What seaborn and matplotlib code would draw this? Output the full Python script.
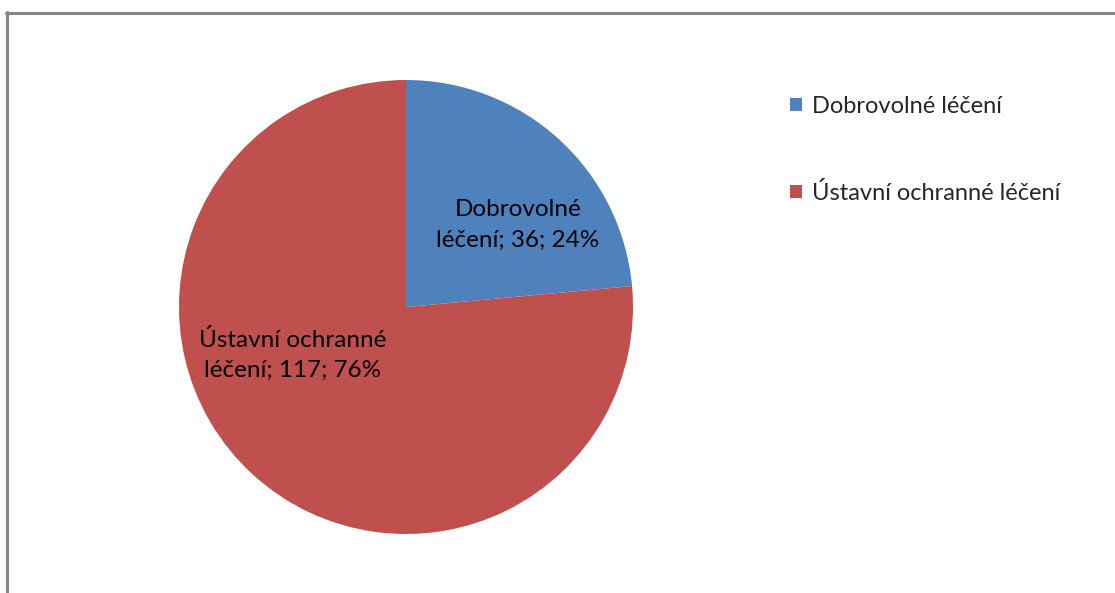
import matplotlib
matplotlib.use("Agg")
import matplotlib.pyplot as plt
from matplotlib.lines import Line2D
from matplotlib.patches import Patch
import seaborn as sns

categories = ["Dobrovolné léčení", "Ústavní ochranné léčení"]
values = [36, 117]
percent_labels = ["24%", "76%"]
slice_labels = ["Dobrovolné\nléčení; 36; 24%", "Ústavní ochranné\nléčení; 117; 76%"]

sns.set_theme(style="white")
plt.rcParams['font.family'] = ['Lato', 'DejaVu Sans']
colors = sns.color_palette(["#4F81BD", "#C0504D"])

W, H = 1115, 593
fig = plt.figure(figsize=(W / 100, H / 100), dpi=100)
fig.patch.set_facecolor("white")

cx, cy, r = 406, 307, 227
ax = fig.add_axes([(cx - r) / W, (H - cy - r) / H, 2 * r / W, 2 * r / H])
wedges, _ = ax.pie(values, colors=colors, startangle=90, counterclock=False,
                   radius=1.0, wedgeprops=dict(linewidth=0))
ax.set_xlim(-1, 1)
ax.set_ylim(-1, 1)
ax.set_aspect("equal")
ax.axis("off")

label_pos = [(0.493, 0.361), (-0.498, -0.211)]
for (x, y), txt in zip(label_pos, slice_labels):
    ax.text(x, y, txt, ha="center", va="center", fontsize=17.5,
            color="black", linespacing=1.55)

handles = [Patch(facecolor=c, edgecolor="none") for c in colors]
fig.legend(handles, categories, loc="upper left",
           bbox_to_anchor=(790 / W, 1 - 96 / H), frameon=False,
           fontsize=17, handlelength=0.5, handleheight=0.5,
           handletextpad=0.45, labelspacing=2.75, borderaxespad=0,
           borderpad=0)

# chart frame (top and left edges visible)
fig.add_artist(Line2D([6 / W, 1.0], [1 - 12.5 / H, 1 - 12.5 / H],
                      transform=fig.transFigure, color="#868686", lw=2.2))
fig.add_artist(Line2D([6.5 / W, 6.5 / W], [0, 1 - 11.5 / H],
                      transform=fig.transFigure, color="#868686", lw=2.2))

fig.savefig("out.png", dpi=100, facecolor="white")
